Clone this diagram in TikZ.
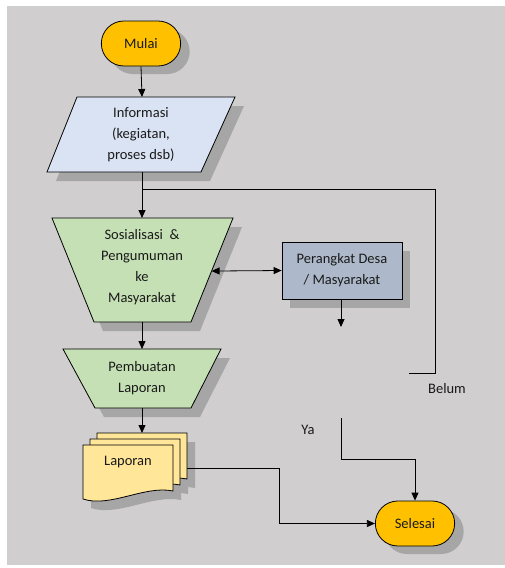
\documentclass[tikz,border=0pt]{standalone}
\usepackage{fontspec}
\setmainfont{Carlito}
\usetikzlibrary{arrows.meta,shadows,shapes.misc,calc}
\definecolor{bgc}{HTML}{D0CECE}
\definecolor{shadowc}{HTML}{A6A6A6}
\definecolor{termc}{HTML}{FFC000}
\definecolor{infoc}{HTML}{DAE3F3}
\definecolor{greenc}{HTML}{C5E0B4}
\definecolor{slatec}{HTML}{ADB9CA}
\definecolor{docc}{HTML}{FFE699}
\definecolor{txtc}{HTML}{1A1A1A}
\newcommand{\fs}{\fontsize{14.5}{21}\selectfont}
\newcommand{\shp}[2]{\fill[shadowc,shift={(9,9)}] #2; \filldraw[#1] #2;}
\begin{document}
\begin{tikzpicture}[x=1pt,y=-1pt,
  outline/.style={draw=black,line width=0.8pt},
  term/.style={rounded rectangle,outline,fill=termc,minimum width=86pt,minimum height=45pt,font=\fs,text=txtc,
    drop shadow={shadow xshift=9pt,shadow yshift=-8pt,fill=shadowc,opacity=1}},
  boxn/.style={rectangle,outline,fill=slatec,minimum width=120pt,minimum height=57pt,font=\fs,align=center,text=txtc,
    drop shadow={shadow xshift=8pt,shadow yshift=-9pt,fill=shadowc,opacity=1}},
  txt/.style={font=\fs,align=center,inner sep=0pt,text=txtc},
  conn/.style={draw=black,line width=0.8pt},
  arr/.style={conn,-{Triangle[length=8pt,width=7pt]}},
  darr/.style={conn,{Triangle[length=8pt,width=7pt]}-{Triangle[length=8pt,width=7pt]}}]
\useasboundingbox (0,0) rectangle (505,568);
\fill[white] (0,0) rectangle (505,568);
\fill[bgc] (7,6) rectangle (505,565);

% terminals
\node[term] (mulai) at (141,43.5) {Mulai};
\node[term] (selesai) at (415,523.5) {Selesai};

% Informasi parallelogram
\shp{outline,fill=infoc}{(77,97) -- (235,97) -- (201,172) -- (47,172) -- cycle}
\node[txt] (info) at (141,135) {Informasi\\(kegiatan,\\proses dsb)};
\coordinate (infoT) at (142,97);
\coordinate (infoB) at (142,172);

% Sosialisasi trapezoid
\shp{outline,fill=greenc}{(52,218) -- (233,218) -- (191,322) -- (94,322) -- cycle}
\node[txt] (sos) at (142,267.5) {Sosialisasi~~\&\\Pengumuman\\ke\\Masyarakat};
\coordinate (sosT) at (142,218);
\coordinate (sosB) at (142,322);
\coordinate (sosR) at ($(233,218)!0.51!(191,322)$);

% Perangkat
\node[boxn] (desa) at (342,270.5) {Perangkat Desa\\/ Masyarakat};
\coordinate (desaEnd) at (341,327);

% Pembuatan Laporan trapezoid
\shp{outline,fill=greenc}{(63,349) -- (221,349) -- (191,408) -- (95,408) -- cycle}
\node[txt] (pemb) at (142,378) {Pembuatan\\Laporan};
\coordinate (pemT) at (142,349);
\coordinate (pemB) at (142,408);

% Laporan multi-document
\foreach \dx/\dy in {14/-12,7/-6,0/0}{
  \fill[shadowc,shift={(\dx+8,\dy+9)}] (83,445) -- (173,445) -- (173,491) .. controls (145,485) and (110,508) .. (83,499) -- cycle;
}
\foreach \dx/\dy in {14/-12,7/-6,0/0}{
  \filldraw[outline,fill=docc,shift={(\dx,\dy)}] (83,445) -- (173,445) -- (173,491) .. controls (145,485) and (110,508) .. (83,499) -- cycle;
}
\node[txt] (lap) at (128,462) {Laporan};
\coordinate (docT) at (142,433);
\coordinate (docR) at (187,468);

% loop line
\coordinate (split) at (142,189);
\coordinate (loopC) at (435,373);
\coordinate (loopE) at (409,373);
\coordinate (yaS) at (341,418);
\coordinate (yaC) at (341,459);
\coordinate (lapC) at (279,468);

% connectors
\draw[arr] (mulai.south) -- (infoT);
\draw[arr] (infoB) -- (sosT);
\draw[conn] (split) -| (loopC) -- (loopE);
\draw[darr] (sosR) -- (desa.west);
\draw[arr] (desa.south -| desaEnd) -- (desaEnd);
\draw[arr] (sosB) -- (pemT);
\draw[arr] (pemB) -- (docT);
\draw[arr] (yaS) -- (yaC) -| (selesai.north);
\draw[arr] (docR) -- (lapC) |- (selesai.west);

% labels
\node[txt] (belum) at (447,389) {Belum};
\node[txt] (ya) at (308,430) {Ya};
\end{tikzpicture}
\end{document}
